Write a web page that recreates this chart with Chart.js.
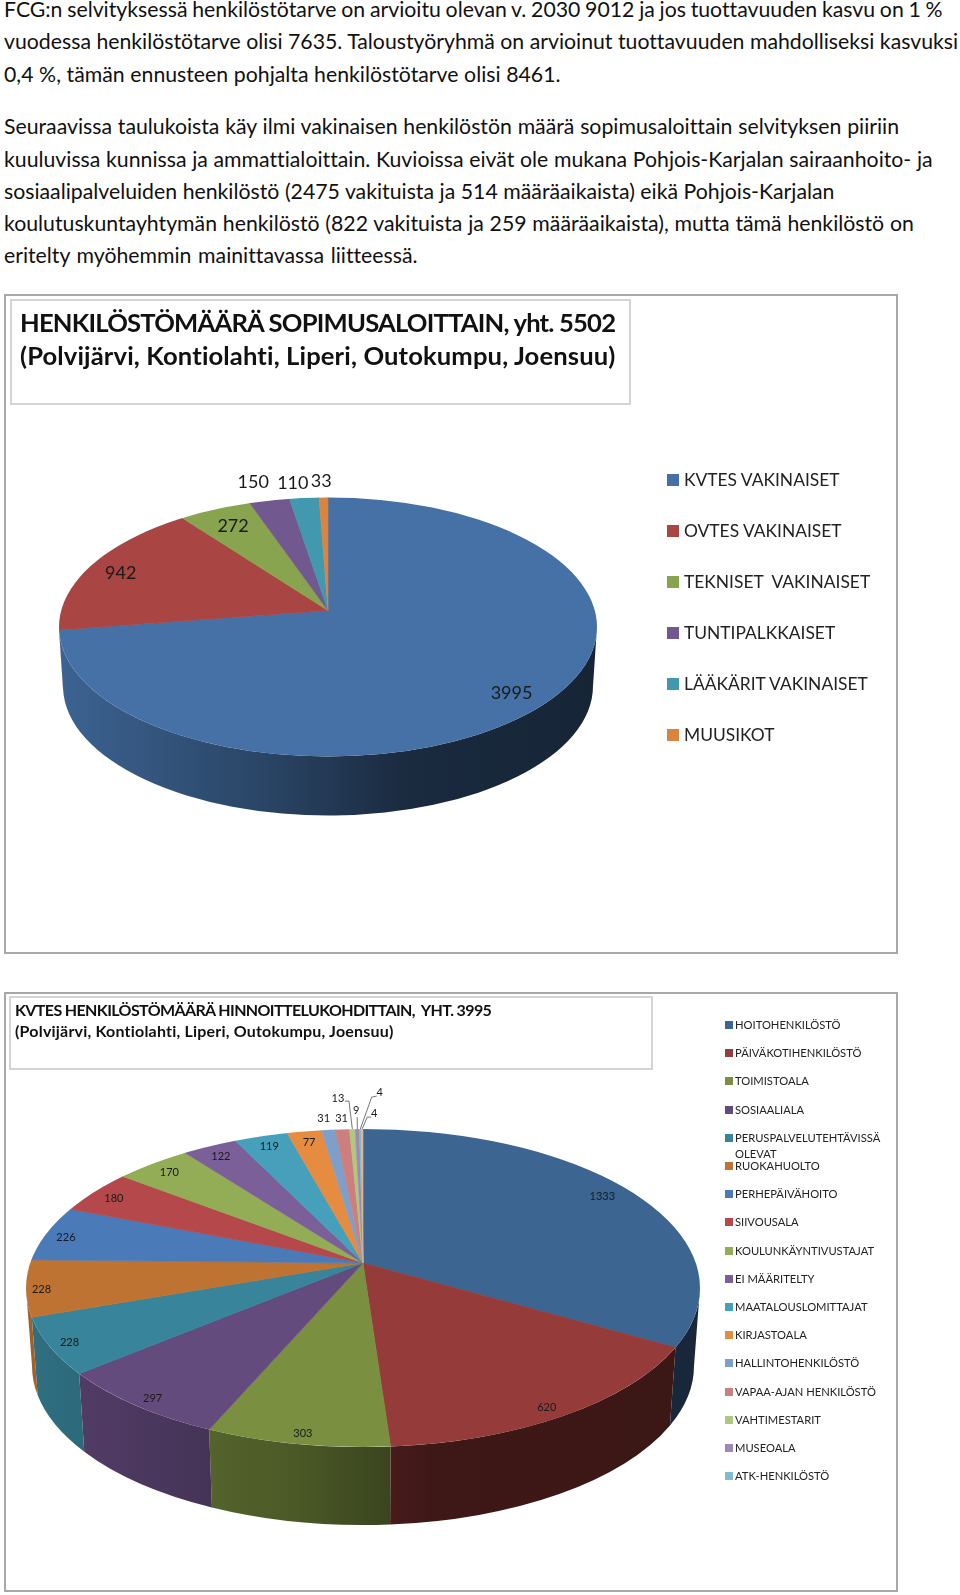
<!DOCTYPE html>
<html>
<head>
<meta charset="utf-8">
<script src="https://cdn.jsdelivr.net/npm/chart.js@4"></script>
<style>
  html, body { margin: 0; background: #fff; }
  body { width: 960px; height: 1595px; position: relative; overflow: hidden; font-family: Lato, sans-serif; color: #111; font-variant-ligatures: none; }
  .line { position: absolute; left: 4px; font-size: 21.25px; line-height: 24px; white-space: nowrap; }
  .frame { position: absolute; left: 4px; width: 894px; outline: 2px solid #a8a8a8; outline-offset: -2px; }
  .frame canvas { position: absolute; left: 0; top: 0; }
  .titlebox { position: absolute; outline: 2px solid #d4d4d4; outline-offset: -2px; font-weight: bold; white-space: pre; }
  .titlebox div { position: absolute; }
  .key { position: absolute; white-space: pre-wrap; color: #222; }
  .key i { position: absolute; left: 0; }
</style>
</head>
<body>
<div class="frame" id="frame1" style="top:294px;height:660px"><canvas id="chartSopimus" width="894" height="660"></canvas></div>
<div class="frame" id="frame2" style="top:992px;height:600px"><canvas id="chartKvtes" width="894" height="600"></canvas></div>
<script>
const introLines = [
  'FCG:n selvityksessä henkilöstötarve on arvioitu olevan v. 2030 9012 ja jos tuottavuuden kasvu on 1 %',
  'vuodessa henkilöstötarve olisi 7635. Taloustyöryhmä on arvioinut tuottavuuden mahdolliseksi kasvuksi',
  '0,4 %, tämän ennusteen pohjalta henkilöstötarve olisi 8461.',
  'Seuraavissa taulukoista käy ilmi vakinaisen henkilöstön määrä sopimusaloittain selvityksen piiriin',
  'kuuluvissa kunnissa ja ammattialoittain. Kuvioissa eivät ole mukana Pohjois-Karjalan sairaanhoito- ja',
  'sosiaalipalveluiden henkilöstö (2475 vakituista ja 514 määräaikaista) eikä Pohjois-Karjalan',
  'koulutuskuntayhtymän henkilöstö (822 vakituista ja 259 määräaikaista), mutta tämä henkilöstö on',
  'eritelty myöhemmin mainittavassa liitteessä.'
];
const introTops = [-3, 29, 62, 114, 147, 179, 211, 243];
const introWordGaps = [-0.7, 0, 0.2, 0.35, 0.25, 0.1, 0.35, 1.2];

// HENKILOSTOMAARA SOPIMUSALOITTAIN
const sopimusTitle = ['HENKILÖSTÖMÄÄRÄ SOPIMUSALOITTAIN, yht. 5502', '(Polvijärvi, Kontiolahti, Liperi, Outokumpu, Joensuu)'];
const sopimusNames = ['KVTES VAKINAISET', 'OVTES VAKINAISET', 'TEKNISET  VAKINAISET', 'TUNTIPALKKAISET', 'LÄÄKÄRIT VAKINAISET', 'MUUSIKOT'];
const sopimusValues = [3995, 942, 272, 150, 110, 33];
const sopimusColors = ['#4571a6', '#a94543', '#89a44e', '#71588f', '#4198af', '#db843d'];
const sopimusShift = [[-4, 6], [-7, 2], [1, 2], [-25, -35], [-15, -32], [-3, -33]];

// KVTES HINNOITTELUKOHDITTAIN
const kvtesTitle = ['KVTES HENKILÖSTÖMÄÄRÄ HINNOITTELUKOHDITTAIN,  YHT. 3995', '(Polvijärvi, Kontiolahti, Liperi, Outokumpu, Joensuu)'];
const kvtesNames = ['HOITOHENKILÖSTÖ', 'PÄIVÄKOTIHENKILÖSTÖ', 'TOIMISTOALA', 'SOSIAALIALA', 'PERUSPALVELUTEHTÄVISSÄ OLEVAT', 'RUOKAHUOLTO', 'PERHEPÄIVÄHOITO', 'SIIVOUSALA', 'KOULUNKÄYNTIVUSTAJAT', 'EI MÄÄRITELTY', 'MAATALOUSLOMITTAJAT', 'KIRJASTOALA', 'HALLINTOHENKILÖSTÖ', 'VAPAA-AJAN HENKILÖSTÖ', 'VAHTIMESTARIT', 'MUSEOALA', 'ATK-HENKILÖSTÖ', ''];
const kvtesValues = [1333, 620, 303, 297, 228, 228, 226, 180, 170, 122, 119, 77, 31, 31, 13, 9, 4, 4];
const kvtesColors = ['#3c6592', '#953b39', '#7a9040', '#644b7e', '#38849a', '#bf7333', '#4a7ab8', '#b5484a', '#92ad56', '#7a5f98', '#46a0bb', '#e58c41', '#7f9fcb', '#cc7f7d', '#afc77f', '#9c8ab0', '#7ebcd0', '#e8b48a'];
const kvtesShift = [[12, -6], [11, 15], [-4, 17], [-17, 14], [-27, 9], [-35, 5], [-28, 0], [-21, -4], [-15, -6], [-12, -7], [-7, -9], [-4, -9], [-10, -31], [-4, -31], [-16, -51], [-2, -39], [19, -57], [12, -36]];
const kvtesLeaders = { 14: [7, 3, 11, 3], 15: [1, 7, 1, 7], 16: [-3, 4, -8, 5], 17: [-3, 4, -7, 4] };

introLines.forEach((t, i) => {
  const el = document.createElement('div');
  el.className = 'line';
  el.style.top = introTops[i] + 'px';
  el.style.wordSpacing = introWordGaps[i] + 'px';
  el.textContent = t;
  document.body.appendChild(el);
});

function shade(hex, f) {
  const n = parseInt(hex.slice(1), 16);
  return `rgb(${(n >> 16) * f | 0},${((n >> 8) & 255) * f | 0},${(n & 255) * f | 0})`;
}

// tilted pie: the apex sits above the middle of the ellipse, so angles get bent for the perspective
function bendAngle(a, o) {
  const p = (o.ryBottom - o.ryTop) / (o.ryBottom + o.ryTop);
  const w = Math.atan2(o.ryBottom * (1 - p) * Math.sin(a), o.radius * Math.sqrt(1 - p * p) * Math.cos(a));
  return a > Math.PI / 2 && w < 0 ? w + Math.PI * 2 : w;
}

// where a ray from the apex leaves the ellipse: distance and ellipse angle
function rimPoint(w, o) {
  const c = (o.ryBottom - o.ryTop) / 2, e = (o.ryBottom + o.ryTop) / 2;
  const s = Math.sin(w), k = Math.cos(w);
  const A = k * k / (o.radius * o.radius) + s * s / (e * e);
  const B = -2 * c * s / (e * e);
  const C = c * c / (e * e) - 1;
  const d = (-B + Math.sqrt(B * B - 4 * A * C)) / (2 * A);
  let t = Math.atan2((d * s - c) / e, d * k / o.radius);
  if (t < -Math.PI / 2) t += Math.PI * 2;
  return { d, t };
}

const pie3d = {
  id: 'pie3d',
  afterDatasetsUpdate(chart, args, o) {
    chart.getDatasetMeta(0).data.forEach(arc => {
      arc.midAngle = bendAngle((arc.startAngle + arc.endAngle) / 2, o);
      arc.startAngle = bendAngle(arc.startAngle, o);
      arc.endAngle = bendAngle(arc.endAngle, o);
    });
  },
  beforeDatasetDraw(chart, args, o) {
    const ctx = chart.ctx, arcs = args.meta.data;
    const { x: cx, y: cy, outerRadius: r } = arcs[0];
    const c = (o.ryBottom - o.ryTop) / 2, e = (o.ryBottom + o.ryTop) / 2;
    arcs.forEach((arc, i) => {
      const t0 = Math.max(rimPoint(arc.startAngle, o).t, 0);
      const t1 = Math.min(rimPoint(arc.endAngle, o).t, Math.PI);
      if (t1 <= t0) return;
      const base = chart.data.datasets[0].backgroundColor[i];
      const g = ctx.createLinearGradient(cx - r, 0, cx + r, 0);
      o.wallStops.forEach(([p, f]) => g.addColorStop(p, shade(base, f)));
      ctx.fillStyle = g;
      ctx.beginPath();
      ctx.ellipse(cx, cy + c, r, e, 0, t0, t1);
      ctx.ellipse(cx, cy + c + o.drop, r - o.inset, e, 0, t1, t0, true);
      ctx.closePath();
      ctx.fill();
    });
    // wedges run past the rim and get cut by the ellipse
    ctx.save();
    ctx.beginPath();
    ctx.ellipse(cx, cy + c, r, e, 0, 0, Math.PI * 2);
    ctx.clip();
    ctx.translate(cx, cy);
    ctx.scale(1.2, 1.2);
    ctx.translate(-cx, -cy);
    args.meta.controller.draw();
    ctx.restore();
    return false;
  },
  afterDatasetsDraw(chart, args, o) {
    const ctx = chart.ctx, arcs = chart.getDatasetMeta(0).data;
    ctx.font = o.labelFont;
    ctx.textAlign = 'center';
    ctx.textBaseline = 'middle';
    arcs.forEach((arc, i) => {
      const a = arc.midAngle, d = rimPoint(a, o).d;
      const lx = arc.x + d * 0.85 * Math.cos(a) + o.shift[i][0];
      const ly = arc.y + d * 0.85 * Math.sin(a) + o.shift[i][1];
      ctx.fillStyle = '#1a1a1a';
      ctx.fillText(chart.data.datasets[0].data[i], lx, ly);
      const lead = o.leaders && o.leaders[i];
      if (lead) {
        ctx.strokeStyle = '#555';
        ctx.lineWidth = 0.8;
        ctx.beginPath();
        ctx.moveTo(lx + lead[0], ly + lead[1]);
        ctx.lineTo(lx + lead[2], ly + lead[3]);
        ctx.lineTo(arc.x + d * Math.cos(a), arc.y + d * Math.sin(a));
        ctx.stroke();
      }
    });
  }
};

function addTitle(frame, lines, box, tops, left, font, spacing) {
  const el = document.createElement('div');
  el.className = 'titlebox';
  el.style.cssText = `left:${box[0]}px;top:${box[1]}px;width:${box[2]}px;height:${box[3]}px;font-size:${font}px;line-height:${font * 1.2}px`;
  lines.forEach((t, i) => {
    const d = document.createElement('div');
    d.style.left = left + 'px';
    d.style.top = tops[i] + 'px';
    d.style.letterSpacing = spacing[i] + 'px';
    d.textContent = t;
    el.appendChild(d);
  });
  frame.appendChild(el);
}

function addKeys(frame, names, colors, k) {
  names.forEach((name, i) => {
    if (!name) return;
    const el = document.createElement('div');
    el.className = 'key';
    el.style.cssText = `left:${k.x}px;top:${k.y + i * k.step}px;width:${k.w}px;padding-left:${k.pad}px;font-size:${k.font}px;line-height:${k.lh}px`;
    el.innerHTML = `<i style="width:${k.box}px;height:${k.box}px;top:${(k.lh - k.box) / 2}px;background:${colors[i]}"></i>`;
    el.appendChild(document.createTextNode(name));
    frame.appendChild(el);
  });
}

addTitle(document.getElementById('frame1'), sopimusTitle, [6, 5, 621, 106], [8, 41], 10, 25.6, [-0.8, 0.13]);
addTitle(document.getElementById('frame2'), kvtesTitle, [5, 4, 644, 74], [4, 25], 6, 16, [-0.62, 0.2]);
addKeys(document.getElementById('frame1'), sopimusNames, sopimusColors, { x: 663, y: 173.5, step: 51.1, w: 230, pad: 17, font: 17.4, lh: 24, box: 12 });
addKeys(document.getElementById('frame2'), kvtesNames, kvtesColors, { x: 721, y: 25, step: 28.2, w: 155, pad: 10, font: 11.2, lh: 16, box: 8 });

new Chart(document.getElementById('chartSopimus'), {
  type: 'pie',
  data: {
    labels: sopimusNames,
    datasets: [{ data: sopimusValues, backgroundColor: sopimusColors, borderColor: sopimusColors, borderWidth: 0.5, clip: false }]
  },
  plugins: [pie3d],
  options: {
    responsive: false,
    animation: false,
    radius: 269,
    layout: { padding: { right: 246, bottom: 27 } },
    plugins: {
      legend: { display: false },
      tooltip: { enabled: false },
      pie3d: {
        radius: 269, ryTop: 113, ryBottom: 146, drop: 59, inset: 4,
        wallStops: [[0, 0.88], [0.4, 0.6], [0.65, 0.38], [1, 0.33]],
        labelFont: '18px Lato', shift: sopimusShift
      }
    }
  }
});

new Chart(document.getElementById('chartKvtes'), {
  type: 'pie',
  data: {
    labels: kvtesNames,
    datasets: [{ data: kvtesValues, backgroundColor: kvtesColors, borderColor: kvtesColors, borderWidth: 0.5, clip: false }]
  },
  plugins: [pie3d],
  options: {
    responsive: false,
    animation: false,
    radius: 337,
    layout: { padding: { right: 176, bottom: 58 } },
    plugins: {
      legend: { display: false },
      tooltip: { enabled: false },
      pie3d: {
        radius: 337, ryTop: 134, ryBottom: 184, drop: 78, inset: 6,
        wallStops: [[0, 0.85], [0.4, 0.62], [0.6, 0.42], [1, 0.4]],
        labelFont: '11px Lato', shift: kvtesShift, leaders: kvtesLeaders
      }
    }
  }
});
</script>
</body>
</html>
